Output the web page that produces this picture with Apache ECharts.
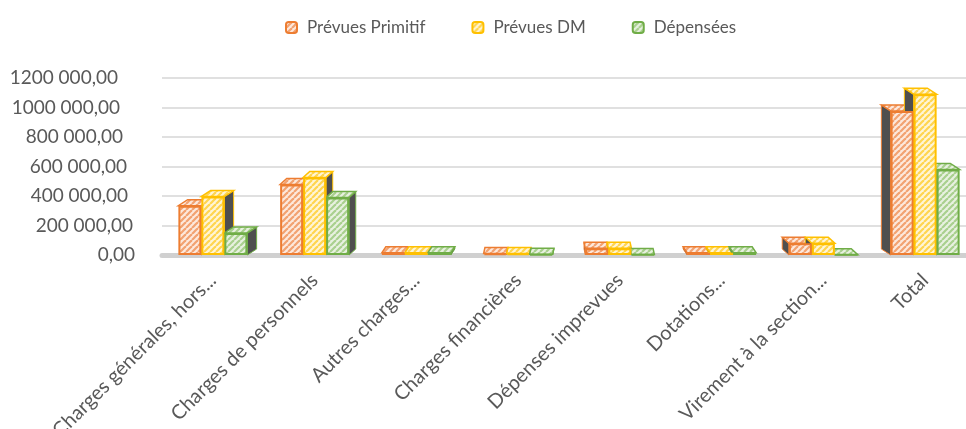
<!DOCTYPE html>
<html>
<head>
<meta charset="utf-8">
<script src="https://cdn.jsdelivr.net/npm/echarts@6/dist/echarts.min.js"></script>
<style>
  html, body { margin: 0; padding: 0; background: #fff; }
  #chart { width: 966px; height: 429px; }
</style>
</head>
<body>
<div id="chart"></div>
<script>
  let categories = ['Charges générales, hors...', 'Charges de personnels', 'Autres charges...', 'Charges financières',
    'Dépenses imprevues', 'Dotations...', 'Virement à la section...', 'Total'];
  let seriesNames = ['Prévues Primitif', 'Prévues DM', 'Dépensées'];
  let prevuesPrimitif = [334000, 478000, 15000, 10000, 45000, 15000, 80000, 977000];
  let prevuesDM = [396000, 525000, 15000, 10000, 45000, 15000, 80000, 1090000];
  let depensees = [150000, 389000, 15000, 5000, 3000, 15000, 2000, 580000];
  let yTickLabels = ['0,00', '200 000,00', '400 000,00', '600 000,00', '800 000,00', '1000 000,00', '1200 000,00'];

  let colors = ['#ed7d31', '#ffc000', '#70ad47'];
  let stripes = [['#fde9dc', '#f2a271'], ['#fff5d6', '#ffd54f'], ['#e8f1e0', '#a9d08e']];
  let barW = 23;
  // perspective: the upper labels sit a bit more to the left
  let labelShift = [0, 2, 7, 8, 12, 15, 17];

  // hatch fill like the excel "wide upward diagonal" pattern
  function makePattern(bg, fg) {
    let c = document.createElement('canvas');
    c.width = 6; c.height = 6;
    let ctx = c.getContext('2d');
    ctx.fillStyle = bg;
    ctx.fillRect(0, 0, 6, 6);
    ctx.strokeStyle = fg;
    ctx.lineWidth = 2.2;
    [-6, 0, 6].forEach(function (k) {
      ctx.beginPath();
      ctx.moveTo(k, 6);
      ctx.lineTo(k + 6, 0);
      ctx.stroke();
    });
    return { image: c, repeat: 'repeat' };
  }
  let patterns = stripes.map(function (s) { return makePattern(s[0], s[1]); });

  let allData = [prevuesPrimitif, prevuesDM, depensees];

  // top + side faces, drawn behind the front faces
  function make3d(s) {
    return {
      name: seriesNames[s] + ' 3d',
      type: 'custom',
      z: 1,
      clip: false,
      silent: true,
      encode: { x: 0, y: 1 },
      data: allData[s].map(function (v, i) { return [i, v]; }),
      renderItem: function (params, api) {
        let cat = api.value(0);
        let p0 = api.coord([cat, 0]);
        let p1 = api.coord([cat, api.value(1)]);
        let mid = params.coordSys.x + params.coordSys.width / 2;
        let xc = p0[0] + (s - 1) * barW;
        let left = xc - barW / 2, right = xc + barW / 2;
        let top = p1[1], bottom = p0[1];
        let dx = (mid - p0[0]) * 0.026, dy = -6;
        let side = dx > 0 ? right : left;
        return {
          type: 'group',
          children: [{
            type: 'polygon',
            shape: { points: [[side, top], [side + dx, top + dy], [side + dx, bottom + dy], [side, bottom]] },
            style: { fill: '#4f4f4f', stroke: colors[s], lineWidth: 1 }
          }, {
            type: 'polygon',
            shape: { points: [[left, top], [right, top], [right + dx, top + dy], [left + dx, top + dy]] },
            style: { fill: patterns[s], stroke: colors[s], lineWidth: 1.5 }
          }]
        };
      }
    };
  }

  let yRich = {};
  labelShift.forEach(function (p, i) {
    yRich['l' + i] = { color: '#595959', fontSize: 19, fontFamily: 'Lato', padding: [0, p, 0, 0] };
  });

  let chart = echarts.init(document.getElementById('chart'));
  let option = {
    backgroundColor: '#fff',
    animation: false,
    legend: {
      top: 14,
      left: 280,
      itemWidth: 11,
      itemHeight: 11,
      itemGap: 46,
      data: seriesNames,
      textStyle: { color: '#595959', fontSize: 17, fontFamily: 'Lato', padding: [0, 0, 0, 5] }
    },
    grid: { left: 162, right: -10, top: 78, bottom: 174, outerBoundsMode: 'none', containLabel: false },
    xAxis: {
      type: 'category',
      data: categories,
      axisTick: { show: false },
      axisLine: { lineStyle: { color: '#d0d0d0', width: 5 } },
      axisLabel: {
        rotate: 45, margin: 22, padding: [16, 0, 0, 0],
        color: '#595959', fontSize: 20, fontFamily: 'Lato', interval: 0
      }
    },
    yAxis: {
      type: 'value',
      min: 0,
      max: 1200000,
      interval: 200000,
      axisLine: { show: false },
      axisTick: { show: false },
      splitLine: { lineStyle: { color: '#d6d6d6', width: 1.6 } },
      axisLabel: {
        margin: 27,
        color: '#595959',
        fontSize: 19,
        fontFamily: 'Lato',
        rich: yRich,
        formatter: function (v) {
          let i = Math.round(v / 200000);
          return '{l' + i + '|' + yTickLabels[i] + '}';
        }
      }
    },
    series: [0, 1, 2].map(function (s) {
      return {
        name: seriesNames[s],
        type: 'bar',
        z: 2,
        barWidth: barW,
        barGap: '0%',
        data: allData[s],
        itemStyle: { color: patterns[s], borderColor: colors[s], borderWidth: 2 }
      };
    }).concat([0, 1, 2].map(make3d))
  };
  chart.setOption(option);
</script>
</body>
</html>
